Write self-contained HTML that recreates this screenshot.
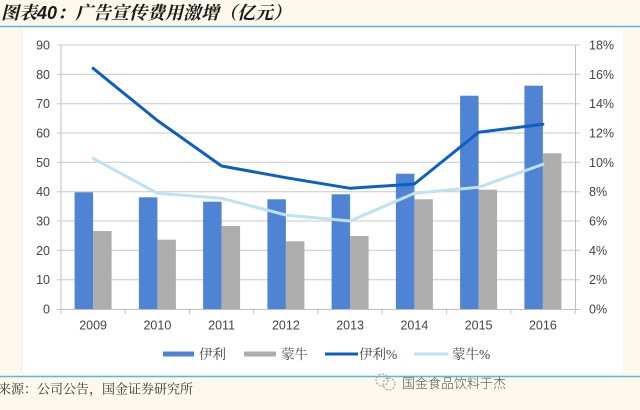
<!DOCTYPE html>
<html><head><meta charset="utf-8">
<style>
html,body{margin:0;padding:0;}
body{width:640px;height:410px;background:#fdf8ec;position:relative;overflow:hidden;font-family:"Liberation Sans","Noto Sans CJK SC",sans-serif;}
svg{position:absolute;left:0;top:0;}
</style></head>
<body>
<svg width="640" height="410" viewBox="0 0 640 410" xmlns="http://www.w3.org/2000/svg">
  <rect x="0" y="0" width="640" height="410" fill="#fdf8ec"/>
  <!-- title -->
  <text x="1" y="19" font-family="'Noto Serif CJK SC','Liberation Serif',serif" font-size="18" font-weight="bold" font-style="italic" fill="#1a1a1a">图表<tspan font-family="'Liberation Sans',sans-serif">40</tspan>：广告宣传费用激增（亿元）</text>
  <line x1="0" y1="26.5" x2="640" y2="26.5" stroke="#5db6e2" stroke-width="1.5"/>
  <!-- white chart area -->
  <rect x="22" y="30" width="601" height="343" fill="#ffffff"/>
  <line x1="21.5" y1="30" x2="21.5" y2="373" stroke="#ece4d2" stroke-width="1" stroke-dasharray="1,1"/>
  <!-- gridlines -->
  <g stroke="#c8c8c8" stroke-width="1">
    <line x1="57" y1="45" x2="580" y2="45"/>
    <line x1="57" y1="74.3" x2="580" y2="74.3"/>
    <line x1="57" y1="103.7" x2="580" y2="103.7"/>
    <line x1="57" y1="133" x2="580" y2="133"/>
    <line x1="57" y1="162.3" x2="580" y2="162.3"/>
    <line x1="57" y1="191.7" x2="580" y2="191.7"/>
    <line x1="57" y1="221" x2="580" y2="221"/>
    <line x1="57" y1="250.3" x2="580" y2="250.3"/>
    <line x1="57" y1="279.7" x2="580" y2="279.7"/>
  </g>
  <!-- axes -->
  <g stroke="#bfbfbf" stroke-width="1">
    <line x1="61" y1="45" x2="61" y2="309"/>
    <line x1="575.5" y1="45" x2="575.5" y2="309"/>
  </g>
  <!-- bars -->
  <g fill="#4f84d4">
    <rect x="74.6" y="192.3" width="18.5" height="116.7"/>
    <rect x="138.9" y="197.3" width="18.5" height="111.7"/>
    <rect x="203.1" y="201.7" width="18.5" height="107.3"/>
    <rect x="267.4" y="199.3" width="18.5" height="109.7"/>
    <rect x="331.6" y="194.3" width="18.5" height="114.7"/>
    <rect x="395.9" y="173.7" width="18.5" height="135.3"/>
    <rect x="460.1" y="95.7" width="18.5" height="213.3"/>
    <rect x="524.4" y="85.7" width="18.5" height="223.3"/>
  </g>
  <g fill="#adadad">
    <rect x="93.1" y="231" width="18.5" height="78"/>
    <rect x="157.4" y="239.7" width="18.5" height="69.3"/>
    <rect x="221.6" y="226" width="18.5" height="83"/>
    <rect x="285.9" y="241.3" width="18.5" height="67.7"/>
    <rect x="350.1" y="236" width="18.5" height="73"/>
    <rect x="414.4" y="199.3" width="18.5" height="109.7"/>
    <rect x="478.6" y="189.7" width="18.5" height="119.3"/>
    <rect x="542.9" y="153.3" width="18.5" height="155.7"/>
  </g>
  <!-- x axis -->
  <line x1="57" y1="309.5" x2="580" y2="309.5" stroke="#bfbfbf" stroke-width="1"/>
  <g stroke="#bfbfbf" stroke-width="1">
    <line x1="61" y1="309" x2="61" y2="314"/>
    <line x1="125.25" y1="309" x2="125.25" y2="314"/>
    <line x1="189.5" y1="309" x2="189.5" y2="314"/>
    <line x1="253.75" y1="309" x2="253.75" y2="314"/>
    <line x1="318" y1="309" x2="318" y2="314"/>
    <line x1="382.25" y1="309" x2="382.25" y2="314"/>
    <line x1="446.5" y1="309" x2="446.5" y2="314"/>
    <line x1="510.75" y1="309" x2="510.75" y2="314"/>
    <line x1="575" y1="309" x2="575" y2="314"/>
  </g>
  <!-- lines -->
  <polyline fill="none" stroke="#bfe1f5" stroke-width="3" stroke-linejoin="round" stroke-linecap="round"
    points="93.1,158.3 157.4,193.3 221.6,198.3 285.9,215 350.1,221 414.4,193.3 478.6,187.3 542.9,164.3"/>
  <polyline fill="none" stroke="#0f5fc0" stroke-width="3" stroke-linejoin="round" stroke-linecap="round"
    points="93.1,68.3 157.4,120.5 221.6,166 285.9,177.7 350.1,188.3 414.4,184 478.6,132.3 542.9,124.3"/>
  <!-- left labels -->
  <g font-family="'Liberation Sans',sans-serif" font-size="12.5" fill="#444" text-anchor="end">
    <text x="50" y="49.5">90</text>
    <text x="50" y="78.8">80</text>
    <text x="50" y="108.2">70</text>
    <text x="50" y="137.5">60</text>
    <text x="50" y="166.8">50</text>
    <text x="50" y="196.2">40</text>
    <text x="50" y="225.5">30</text>
    <text x="50" y="254.8">20</text>
    <text x="50" y="284.2">10</text>
    <text x="50" y="313.5">0</text>
  </g>
  <g font-family="'Liberation Sans',sans-serif" font-size="12.5" fill="#444" text-anchor="start">
    <text x="589" y="49.5">18%</text>
    <text x="589" y="78.8">16%</text>
    <text x="589" y="108.2">14%</text>
    <text x="589" y="137.5">12%</text>
    <text x="589" y="166.8">10%</text>
    <text x="589" y="196.2">8%</text>
    <text x="589" y="225.5">6%</text>
    <text x="589" y="254.8">4%</text>
    <text x="589" y="284.2">2%</text>
    <text x="589" y="313.5">0%</text>
  </g>
  <g font-family="'Liberation Sans',sans-serif" font-size="12.5" fill="#444" text-anchor="middle">
    <text x="93.1" y="329.5">2009</text>
    <text x="157.4" y="329.5">2010</text>
    <text x="221.6" y="329.5">2011</text>
    <text x="285.9" y="329.5">2012</text>
    <text x="350.1" y="329.5">2013</text>
    <text x="414.4" y="329.5">2014</text>
    <text x="478.6" y="329.5">2015</text>
    <text x="542.9" y="329.5">2016</text>
  </g>
  <!-- legend -->
  <rect x="163" y="351.5" width="31" height="5" fill="#4f84d4"/>
  <rect x="244" y="351.5" width="32" height="5" fill="#adadad"/>
  <line x1="325" y1="354" x2="358" y2="354" stroke="#0f5fc0" stroke-width="3"/>
  <line x1="414" y1="354" x2="448" y2="354" stroke="#bfe1f5" stroke-width="3"/>
  <g font-family="'Liberation Serif','Noto Serif CJK SC',serif" font-size="13.5" fill="#444">
    <text x="199" y="359">伊利</text>
    <text x="281" y="359">蒙牛</text>
    <text x="359" y="359">伊利%</text>
    <text x="452" y="359">蒙牛%</text>
  </g>
  <!-- footer -->
  <line x1="0" y1="376.5" x2="640" y2="376.5" stroke="#5db6e2" stroke-width="1.5"/>
  <text x="-2" y="393.5" font-family="'Liberation Serif','Noto Serif CJK SC',serif" font-size="13" fill="#333">来源：公司公告，国金证券研究所</text>
  <!-- watermark -->
  <g fill="none" stroke="#999" stroke-width="1" stroke-dasharray="2,1.5">
    <circle cx="382" cy="380" r="6"/>
    <circle cx="389" cy="384" r="6"/>
  </g>
  <text x="402" y="388" font-family="'Noto Sans CJK SC',sans-serif" font-size="13" fill="#555" font-weight="300">国金食品饮料于杰</text>
</svg>
</body></html>
